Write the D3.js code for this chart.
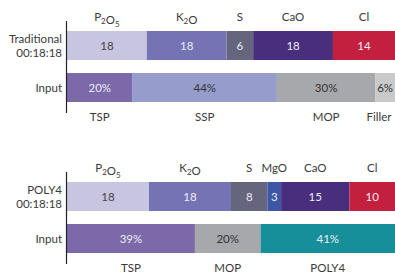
<!DOCTYPE html>
<html>
<head>
<meta charset="utf-8">
<script src="https://cdn.jsdelivr.net/npm/d3@7"></script>
<style>
  html, body { margin: 0; padding: 0; background: #fff; }
  svg { display: block; font-family: Lato, "Open Sans", sans-serif; }
</style>
</head>
<body>
<div id="chart"></div>
<script>
// nutrient content of the product (top row) and share of inputs (bottom row)
const tradNutrients = ["P2O5", "K2O", "S", "CaO", "Cl"];
const tradValues = [18, 18, 6, 18, 14];
const tradInputs = ["TSP", "SSP", "MOP", "Filler"];
const tradShares = [20, 44, 30, 6];

const polyNutrients = ["P2O5", "K2O", "S", "MgO", "CaO", "Cl"];
const polyValues = [18, 18, 8, 3, 15, 10];
const polyInputs = ["TSP", "MOP", "POLY4"];
const polyShares = [39, 20, 41];

const colors = {
    P2O5: "#c8c5e0", K2O: "#7474b4", S: "#65667e", MgO: "#3d57a6",
    CaO: "#4a2e7e", Cl: "#c31f3f",
    TSP: "#7b69a9", SSP: "#969dcd", MOP: "#a6a8ab", Filler: "#c9c9c9",
    POLY4: "#178f9b"
};
// segments with light fill get dark text
const lightFills = new Set(["P2O5", "SSP", "MOP", "Filler"]);

const width = 395, height = 274;
const left = 67, right = 395;

const svg = d3.select("#chart").append("svg")
    .attr("width", width)
    .attr("height", height);

function nutrientLabel(sel, name) {
    // write chemical formulas with subscripts
    const parts = name.match(/[A-Za-z]+|\d+/g);
    parts.forEach(p => {
        if (/\d/.test(p)) {
            sel.append("tspan").attr("font-size", 8).attr("dy", 3).text(p);
            sel.append("tspan").attr("font-size", 11.5).attr("dy", -3).text("");
        } else {
            sel.append("tspan").text(p);
        }
    });
}

function stack(names, values) {
    let acc = 0;
    return names.map((n, i) => {
        const d = {name: n, value: values[i], x0: acc, x1: acc + values[i]};
        acc += values[i];
        return d;
    });
}

function drawPanel(top, rowLabel, nutrients, values, inputs, shares) {
    const g = svg.append("g");

    const y = d3.scaleBand()
        .domain(["mix", "input"])
        .range([top, top + 71])
        .paddingInner(0.31);

    const mix = stack(nutrients, values);
    const inp = stack(inputs, shares);

    const xMix = d3.scaleLinear().domain([0, d3.sum(values)]).range([left, right]);
    const xInp = d3.scaleLinear().domain([0, d3.sum(shares)]).range([left, right]);

    // nutrient bar
    g.selectAll("rect.mix").data(mix).enter().append("rect")
        .attr("class", "mix")
        .attr("x", d => xMix(d.x0))
        .attr("y", y("mix"))
        .attr("width", d => xMix(d.x1) - xMix(d.x0))
        .attr("height", y.bandwidth())
        .style("fill", d => colors[d.name]);

    g.selectAll("text.mixval").data(mix).enter().append("text")
        .attr("class", "mixval")
        .attr("x", d => (xMix(d.x0) + xMix(d.x1)) / 2)
        .attr("y", y("mix") + y.bandwidth() / 2)
        .attr("dy", "0.35em")
        .attr("text-anchor", "middle")
        .attr("font-size", 11.5)
        .style("fill", d => lightFills.has(d.name) ? "#444" : "#ececf4")
        .text(d => d.value);

    g.selectAll("text.mixname").data(mix).enter().append("text")
        .attr("class", "mixname")
        .attr("x", d => (xMix(d.x0) + xMix(d.x1)) / 2)
        .attr("y", y("mix") - 10)
        .attr("text-anchor", "middle")
        .attr("font-size", 11.5)
        .style("fill", "#3a3a3a")
        .each(function(d) { nutrientLabel(d3.select(this), d.name); });

    // input bar
    g.selectAll("rect.inp").data(inp).enter().append("rect")
        .attr("class", "inp")
        .attr("x", d => xInp(d.x0))
        .attr("y", y("input"))
        .attr("width", d => xInp(d.x1) - xInp(d.x0))
        .attr("height", y.bandwidth())
        .style("fill", d => colors[d.name]);

    g.selectAll("text.inpval").data(inp).enter().append("text")
        .attr("class", "inpval")
        .attr("x", d => (xInp(d.x0) + xInp(d.x1)) / 2)
        .attr("y", y("input") + y.bandwidth() / 2)
        .attr("dy", "0.35em")
        .attr("text-anchor", "middle")
        .attr("font-size", 11.5)
        .style("fill", d => lightFills.has(d.name) ? "#333" : "#ececf4")
        .text(d => d.value + "%");

    g.selectAll("text.inpname").data(inp).enter().append("text")
        .attr("class", "inpname")
        .attr("x", d => Math.min((xInp(d.x0) + xInp(d.x1)) / 2, right - 16))
        .attr("y", y("input") + y.bandwidth() + 15)
        .attr("dy", "0.35em")
        .attr("text-anchor", "middle")
        .attr("font-size", 11.5)
        .style("fill", "#3a3a3a")
        .text(d => d.name);

    // row labels
    const lab = g.append("text")
        .attr("x", left - 5)
        .attr("y", y("mix") + y.bandwidth() / 2)
        .attr("text-anchor", "end")
        .attr("font-size", 11.5)
        .style("fill", "#3a3a3a");
    lab.append("tspan").attr("x", left - 5).attr("dy", "-0.22em").text(rowLabel);
    lab.append("tspan").attr("x", left - 5).attr("dy", "1.2em").text("00:18:18");

    g.append("text")
        .attr("x", left - 5)
        .attr("y", y("input") + y.bandwidth() / 2)
        .attr("dy", "0.35em")
        .attr("text-anchor", "end")
        .attr("font-size", 11.5)
        .style("fill", "#3a3a3a")
        .text("Input");

    // vertical axis line
    g.append("line")
        .attr("x1", left - 0.5).attr("x2", left - 0.5)
        .attr("y1", y("mix") - 10)
        .attr("y2", y("input") + y.bandwidth() + 11)
        .style("stroke", "#222")
        .style("stroke-width", 1.2);
}

drawPanel(31, "Traditional", tradNutrients, tradValues, tradInputs, tradShares);
drawPanel(182, "POLY4", polyNutrients, polyValues, polyInputs, polyShares);
</script>
</body>
</html>
